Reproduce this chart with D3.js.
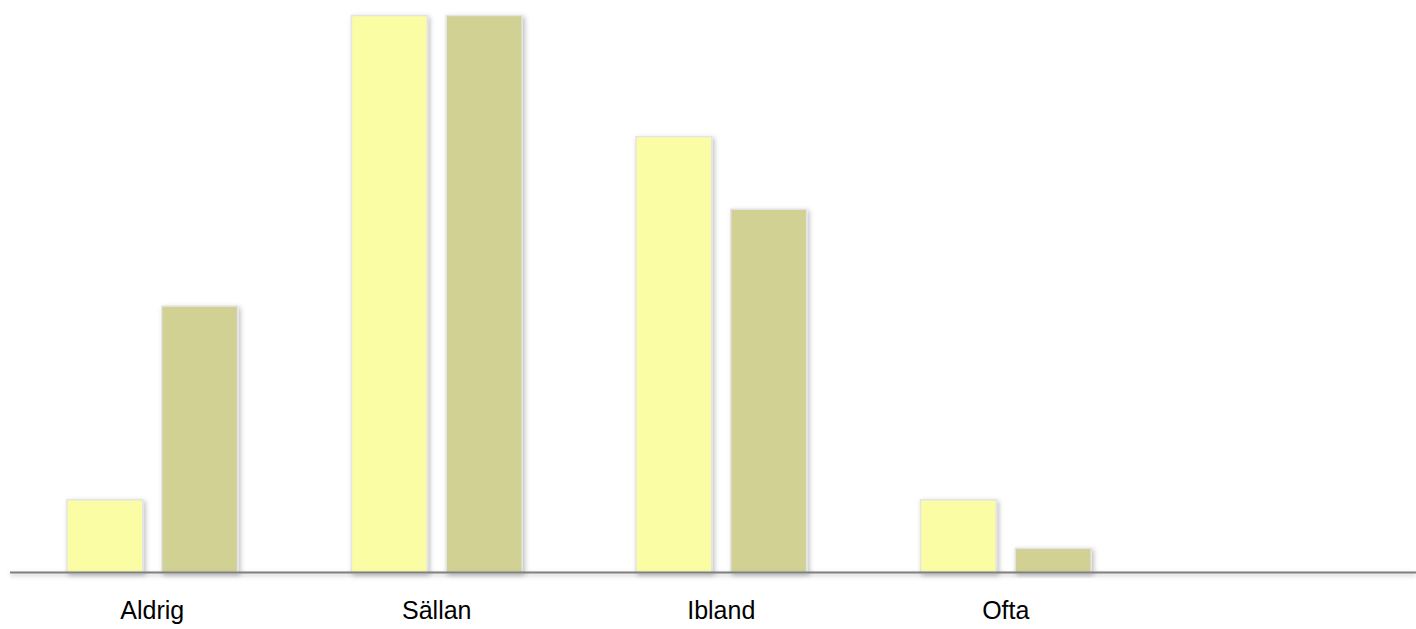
<!DOCTYPE html>
<html>
<head>
<meta charset="utf-8">
<script src="https://cdn.jsdelivr.net/npm/d3@7"></script>
<style>
html,body{margin:0;padding:0;background:#fff;}
svg{display:block;}
</style>
</head>
<body>
<script>
const categories = ["Aldrig", "Sällan", "Ibland", "Ofta"];
const seriesNames = ["Serie 1", "Serie 2"];
const series1 = [3, 23, 18, 3];
const series2 = [11, 23, 15, 1];
const colors = ["#fbfda5", "#d1d193"];

const W = 1416, H = 629;
const svg = d3.select("body").append("svg").attr("width", W).attr("height", H);

const defs = svg.append("defs");
const f = defs.append("filter").attr("id", "sh").attr("x", "-20%").attr("y", "-20%").attr("width", "140%").attr("height", "140%");
f.append("feDropShadow").attr("dx", 2).attr("dy", 2).attr("stdDeviation", 2.5)
  .attr("flood-color", "#000").attr("flood-opacity", 0.25);
const f2 = defs.append("filter").attr("id", "sh2").attr("filterUnits", "userSpaceOnUse")
  .attr("x", 0).attr("y", 560).attr("width", 1416).attr("height", 30);
f2.append("feDropShadow").attr("dx", 0).attr("dy", 2).attr("stdDeviation", 2)
  .attr("flood-color", "#000").attr("flood-opacity", 0.25);

const baseY = 572.5;
const x = d3.scaleBand().domain(categories).range([10, 10 + 4 * 284.5]).paddingInner(0).paddingOuter(0);
const xs = d3.scaleBand().domain(seriesNames).range([0, x.bandwidth()]).paddingInner(0.2).paddingOuter(0.6);
const y = d3.scaleLinear().domain([0, 23]).range([baseY, 15.5]);

const data = categories.map((c, i) => ({cat: c, vals: [series1[i], series2[i]]}));

const g = svg.append("g");
const groups = g.selectAll("g.grp").data(data).join("g")
  .attr("class", "grp")
  .attr("transform", d => `translate(${x(d.cat)},0)`);

groups.selectAll("rect").data(d => d.vals.map((v, k) => ({v, k, s: seriesNames[k]}))).join("rect")
  .attr("x", d => xs(d.s))
  .attr("width", xs.bandwidth())
  .attr("y", d => y(d.v))
  .attr("height", d => baseY - y(d.v))
  .attr("fill", d => colors[d.k])
  .attr("stroke", "#e4e4e4")
  .attr("stroke-width", 1.5)
  .attr("filter", "url(#sh)");

// axis labels
const axis = d3.axisBottom(x).tickSize(0).tickPadding(0);
const ax = svg.append("g").attr("transform", `translate(0,${baseY})`).call(axis);
ax.select(".domain").remove();
ax.selectAll("text")
  .attr("y", 0)
  .attr("dy", "46px")
  .attr("fill", "#000")
  .style("font-family", "'Liberation Sans', Arial, sans-serif")
  .style("font-size", "25px");

// baseline
svg.append("rect")
  .attr("x", 10).attr("width", W - 10)
  .attr("y", baseY - 1).attr("height", 2)
  .attr("fill", "#7f7f7f")
  .attr("filter", "url(#sh2)");
</script>
</body>
</html>
